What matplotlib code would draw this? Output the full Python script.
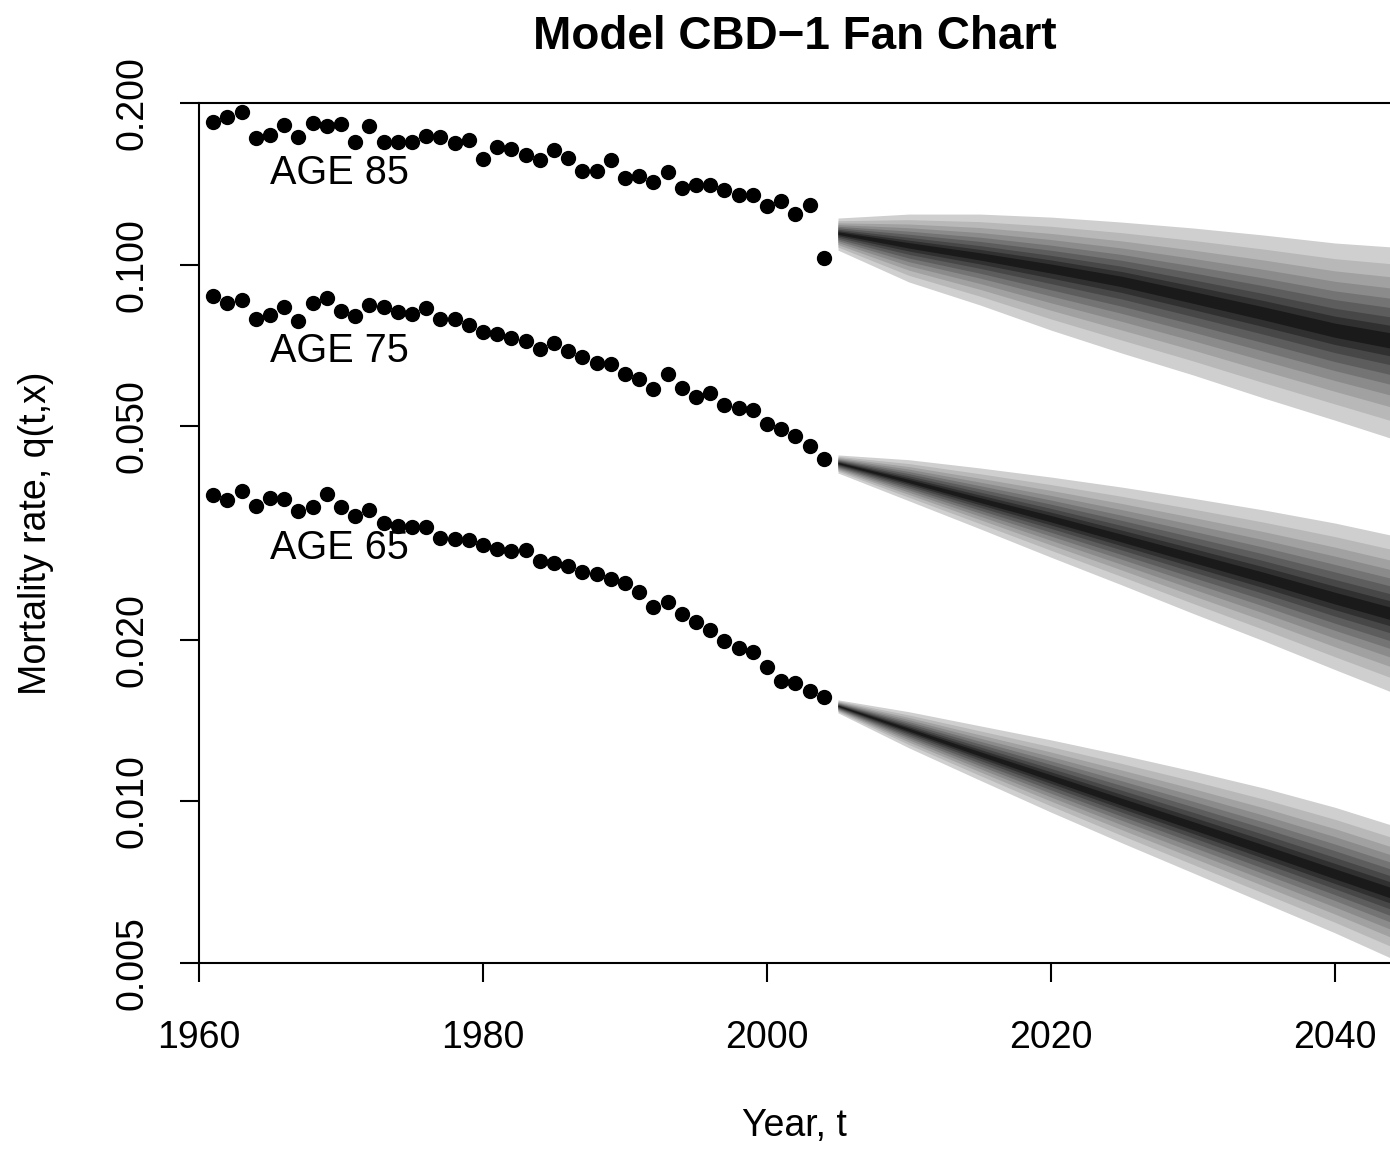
import numpy as np
import matplotlib.pyplot as plt

# observed mortality rates, 1961-2004
years = list(range(1961, 2005))
q85 = [0.1841, 0.1886, 0.1927, 0.1719, 0.1743, 0.1820, 0.1726, 0.1833, 0.1814, 0.1828,
       0.1690, 0.1814, 0.1694, 0.1690, 0.1694, 0.1738, 0.1726, 0.1682, 0.1707, 0.1573,
       0.1654, 0.1642, 0.1602, 0.1566, 0.1637, 0.1578, 0.1496, 0.1496, 0.1564, 0.1450,
       0.1460, 0.1423, 0.1486, 0.1391, 0.1407, 0.1409, 0.1375, 0.1348, 0.1348, 0.1287,
       0.1314, 0.1241, 0.1289, 0.1030]
q75 = [0.0875, 0.0847, 0.0859, 0.0792, 0.0805, 0.0835, 0.0786, 0.0847, 0.0865, 0.0820,
       0.0802, 0.0841, 0.0832, 0.0815, 0.0809, 0.0829, 0.0791, 0.0793, 0.0773, 0.0750,
       0.0742, 0.0729, 0.0721, 0.0696, 0.0714, 0.0691, 0.0673, 0.0656, 0.0653, 0.0625,
       0.0612, 0.0587, 0.0625, 0.0589, 0.0567, 0.0576, 0.0547, 0.0541, 0.0535, 0.0505,
       0.0493, 0.0479, 0.0460, 0.0434]
q65 = [0.03723, 0.03644, 0.03793, 0.03556, 0.03680, 0.03660, 0.03476, 0.03532, 0.03744, 0.03532,
       0.03406, 0.03490, 0.03305, 0.03263, 0.03241, 0.03241, 0.03091, 0.03081, 0.03075, 0.03003,
       0.02948, 0.02927, 0.02939, 0.02807, 0.02783, 0.02748, 0.02671, 0.02652, 0.02592, 0.02548,
       0.02451, 0.02298, 0.02348, 0.02233, 0.02161, 0.02086, 0.01992, 0.01928, 0.01901, 0.01782,
       0.01674, 0.01659, 0.01603, 0.01567]

# forecast fans: 95% upper, median, 5% lower
fc_years = [2005, 2010, 2015, 2020, 2025, 2030, 2035, 2040, 2045]
fan85_hi = [0.1221, 0.1242, 0.1242, 0.1226, 0.1200, 0.1170, 0.1135, 0.1097, 0.1074]
fan85_md = [0.1145, 0.1087, 0.1037, 0.0985, 0.0932, 0.0870, 0.0812, 0.0755, 0.0714]
fan85_lo = [0.1064, 0.0928, 0.0841, 0.0755, 0.0684, 0.0623, 0.0564, 0.0513, 0.0465]
fan75_hi = [0.0442, 0.0433, 0.0418, 0.0402, 0.0385, 0.0367, 0.0349, 0.0330, 0.0309]
fan75_md = [0.0427, 0.0395, 0.0364, 0.0336, 0.0309, 0.0284, 0.0261, 0.0239, 0.0220]
fan75_lo = [0.0409, 0.0363, 0.0322, 0.0285, 0.0253, 0.0224, 0.0199, 0.0176, 0.0156]
fan65_hi = [0.01546, 0.01469, 0.01383, 0.01302, 0.01220, 0.01139, 0.01059, 0.00975, 0.00886]
fan65_md = [0.01507, 0.01360, 0.01226, 0.01106, 0.00997, 0.00900, 0.00812, 0.00732, 0.00661]
fan65_lo = [0.01462, 0.01258, 0.01095, 0.00955, 0.00837, 0.00736, 0.00647, 0.00569, 0.00496]

# relative width of each band (outer -> inner), share of the 5-95% spread
band_frac = [1.00, 0.82, 0.68, 0.56, 0.45, 0.35, 0.25, 0.16, 0.08]

age_labels = ["AGE 85", "AGE 75", "AGE 65"]
label_y = [0.148, 0.069, 0.0296]

plt.rcParams['font.family'] = ['Liberation Sans', 'DejaVu Sans']

fig = plt.figure(figsize=(13.9, 11.54), dpi=100)
ax = fig.add_axes([199/1390, 191/1154, 1191/1390, 860/1154])
ax.set_yscale('log')

greys = np.linspace(0.81, 0.10, len(band_frac))
fans = [(fan85_hi, fan85_md, fan85_lo), (fan75_hi, fan75_md, fan75_lo), (fan65_hi, fan65_md, fan65_lo)]
for hi, md, lo in fans:
    lhi, lmd, llo = np.log(hi), np.log(md), np.log(lo)
    for f, g in zip(band_frac, greys):
        up = np.exp(lmd + f*(lhi - lmd))
        dn = np.exp(lmd + f*(llo - lmd))
        ax.fill_between(fc_years, dn, up, color=str(g), lw=0, zorder=2)

for q in [q85, q75, q65]:
    ax.plot(years, q, 'o', color='black', markersize=10, zorder=3)

for lab, y in zip(age_labels, label_y):
    ax.text(1965, y, lab, fontsize=28.5, ha='left', va='center', zorder=4)

ax.set_xlim(1960, 1960 + 1191/14.2)
ax.set_ylim(0.005, 0.2)
ax.set_xticks([1960, 1980, 2000, 2020, 2040])
yt = [0.005, 0.01, 0.02, 0.05, 0.1, 0.2]
ax.set_yticks(yt)
ax.set_yticklabels(["%.3f" % v for v in yt], rotation=90, va='center')
ax.minorticks_off()
ax.tick_params(axis='both', direction='out', length=13.7, width=1.5, labelsize=27)
ax.tick_params(axis='x', pad=27)
ax.tick_params(axis='y', pad=21)
for s in ['left', 'top', 'bottom']:
    ax.spines[s].set_linewidth(1.5)
ax.spines['right'].set_visible(False)

ax.set_xlabel("Year, t", fontsize=27, labelpad=38)
ax.set_ylabel("Mortality rate, q(t,x)", fontsize=27, labelpad=44)
fig.text(795/1390, 1 - 37/1154, "Model CBD\u22121 Fan Chart", fontsize=33, fontweight='bold',
         ha='center', va='center')

plt.savefig('out.png', dpi=100)
